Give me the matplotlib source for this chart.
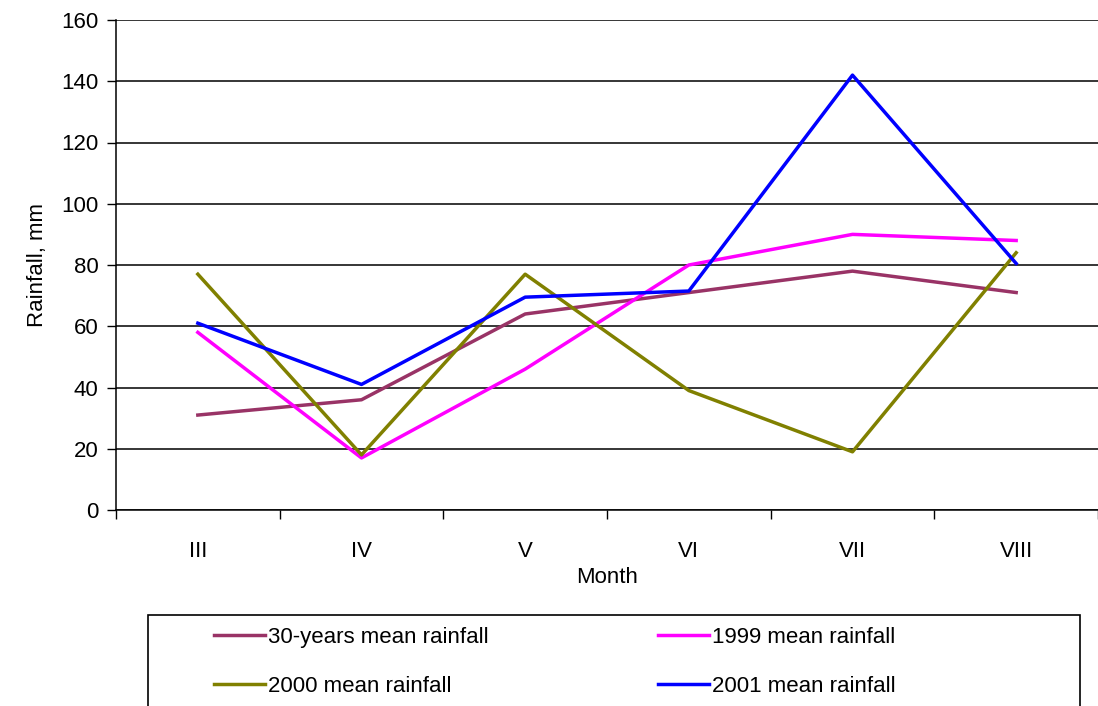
import matplotlib.pyplot as plt
from matplotlib.patches import Rectangle

plt.rcParams['font.family'] = ['Liberation Sans', 'DejaVu Sans']

# Monthly rainfall, mm
months = ['III', 'IV', 'V', 'VI', 'VII', 'VIII']
mean_30y = [31, 36, 64, 71, 78, 71]
rain_1999 = [58, 17, 46, 80, 90, 88]
rain_2000 = [77, 18, 77, 39, 19, 84]
rain_2001 = [61, 41, 69.5, 71.5, 142, 80.5]

fig = plt.figure(figsize=(10.98, 7.06), dpi=100)
ax = fig.add_axes([116 / 1098, 1 - 510 / 706, 1 - 116 / 1098, (510 - 20) / 706])

x = [i + 0.5 for i in range(len(months))]
l1, = ax.plot(x, mean_30y, color='#993366', lw=2.5, label='30-years mean rainfall')
l2, = ax.plot(x, rain_1999, color='#FF00FF', lw=2.5, label='1999 mean rainfall')
l3, = ax.plot(x, rain_2000, color='#808000', lw=2.5, label='2000 mean rainfall')
l4, = ax.plot(x, rain_2001, color='#0000FF', lw=2.5, label='2001 mean rainfall')

ax.set_xlim(0, len(months))
ax.set_ylim(0, 160)
ax.set_yticks(range(0, 161, 20))
ax.yaxis.grid(True, color='black', lw=1.1)
ax.set_axisbelow(True)

# category ticks sit between the months, labels in the middle
ax.set_xticks(range(len(months) + 1))
ax.set_xticklabels([])
ax.set_xticks(x, minor=True)
ax.set_xticklabels(months, minor=True)
ax.tick_params(axis='x', which='major', length=6.5, width=1, color='black')
ax.tick_params(axis='x', which='minor', length=0, pad=22, labelsize=16)
ax.tick_params(axis='y', length=6.5, width=1, pad=6, labelsize=16)

for s in ['top', 'right']:
    ax.spines[s].set_visible(False)
for s in ['left', 'bottom']:
    ax.spines[s].set_color('black')
    ax.spines[s].set_linewidth(1.1)

ax.set_xlabel('Month', fontsize=16, labelpad=4)
ax.set_ylabel('Rainfall, mm', fontsize=16, labelpad=10)

# legend box running off the bottom edge
fig.patches.append(Rectangle((148 / 1098, -0.05), (1080 - 148) / 1098, 0.05 + 91 / 706,
                             transform=fig.transFigure, fill=False, edgecolor='black', lw=1.2))
# order so rows read 30-years, 1999 / 2000, 2001
fig.legend([l1, l3, l2, l4], [l.get_label() for l in (l1, l3, l2, l4)],
           loc='upper left', bbox_to_anchor=(205 / 1098, 1 - 618 / 706), ncol=2,
           frameon=False, fontsize=16, handlelength=2.3, handletextpad=0.15,
           columnspacing=7.6, labelspacing=1.25, borderaxespad=0)

fig.savefig('out.png', dpi=100)
